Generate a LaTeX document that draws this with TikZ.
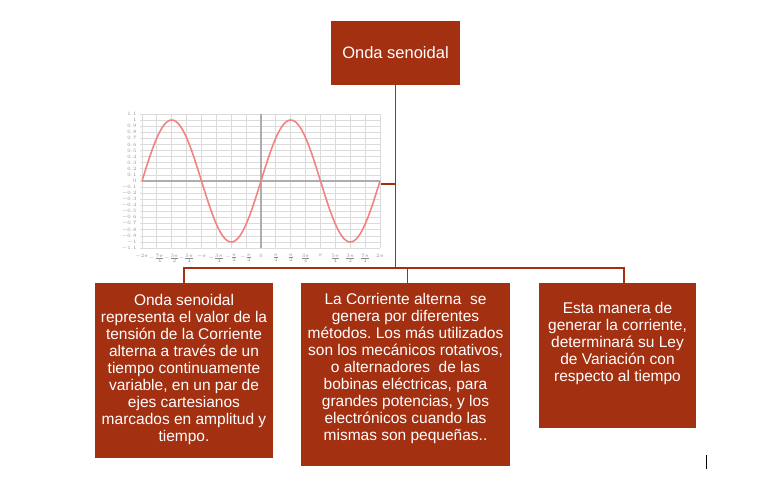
\documentclass[tikz,border=0pt]{standalone}
\usepackage{fontspec}
\setmainfont{Liberation Sans}
\usetikzlibrary{positioning}
\frenchspacing
\definecolor{brick}{RGB}{164,48,18}
\definecolor{sinered}{RGB}{244,130,130}
\newcommand{\boxfont}{\fontsize{15.5}{17}\selectfont}
\newcommand{\tickfont}{\fontsize{3}{3.5}\selectfont}
\tikzset{mapbox/.style={rectangle, fill=brick, draw=none, inner sep=0pt}}
\tikzset{boxtext/.style={text=white, align=center, font=\boxfont, inner sep=0pt}}
\tikzset{link/.style={draw=brick, line width=1.4pt}}
\tikzset{gridln/.style={draw=black!14, line width=0.8pt}}
\tikzset{axisln/.style={draw=black!32, line width=1.5pt}}

\begin{document}
\begin{tikzpicture}[x=1pt, y=-1pt]
\useasboundingbox (0,0) rectangle (766,495);

\node[mapbox, minimum width=129pt, minimum height=64pt] (top) at (395.5,53) {};
\node[boxtext, font=\fontsize{16.5}{18}\selectfont] (toptxt) at (top) {Onda senoidal};

% sine chart
\begin{scope}[shift={(142,181)}]
\foreach \v in {-11,...,11} {
  \draw[gridln] (-2,-6.1*\v) -- (238,-6.1*\v);
  \pgfmathsetmacro{\lab}{\v/10}
  \node[text=black!45, font=\tickfont, anchor=east] (ylab\v) at (-2,-6.1*\v) {\pgfmathprintnumber[fixed,precision=1]{\lab}};
}
\foreach \k in {0,...,16} \draw[gridln] (14.875*\k,-67.1) -- (14.875*\k,67.1);
\draw[axisln] (0,0) -- (238,0);
\draw[axisln] (119,-67.1) -- (119,67.1);
\foreach \k/\t in {0/$-2\pi$,1/$-\frac{7\pi}{4}$,2/$-\frac{3\pi}{2}$,3/$-\frac{5\pi}{4}$,4/$-\pi$,5/$-\frac{3\pi}{4}$,6/$-\frac{\pi}{2}$,7/$-\frac{\pi}{4}$,8/$0$,9/$\frac{\pi}{4}$,10/$\frac{\pi}{2}$,11/$\frac{3\pi}{4}$,12/$\pi$,13/$\frac{5\pi}{4}$,14/$\frac{3\pi}{2}$,15/$\frac{7\pi}{4}$,16/$2\pi$}
  \node[text=black!45, font=\tickfont, anchor=north] (xlab\k) at (14.875*\k,70) {\t};
\draw[sinered, line width=1.6pt] plot[domain=0:238, samples=120, smooth] (\x, {-61*sin(\x/119*360)});
\end{scope}
\coordinate (chartE) at (381,184);
\draw[link] (chartE) -- (chartE -| top.south);

% bottom boxes
\node[mapbox, minimum width=178pt, minimum height=175pt] (lbox) at (184,370.5) {};
\node[boxtext] (ltxt) at (184,369) {Onda senoidal\\representa el valor de la\\tensi\'on de la Corriente\\alterna a trav\'es de un\\tiempo continuamente\\variable, en un par de\\ejes cartesianos\\marcados en amplitud y\\tiempo.};

\node[mapbox, minimum width=209pt, minimum height=183pt] (mbox) at (405.5,374.5) {};
\node[boxtext] (mtxt) at (405.5,368) {La Corriente alterna\ \ se\\genera por diferentes\\m\'etodos. Los m\'as utilizados\\son los mec\'anicos rotativos,\\o alternadores\ \ de las\\bobinas el\'ectricas, para\\grandes potencias, y los\\electr\'onicos cuando las\\mismas son peque\~nas..};

\node[mapbox, minimum width=157pt, minimum height=145pt] (rbox) at (617.5,355.5) {};
\node[boxtext] (rtxt) at (617.5,343) {Esta manera de\\generar la corriente,\\determinar\'a su Ley\\de Variaci\'on con\\respecto al tiempo};

\coordinate (hub) at (395.5,268);
\draw[link] (top.south) -- (hub);
\draw[link] (lbox.north) -- (lbox.north |- hub) -| ([xshift=6.5pt]rbox.north);
\draw[link] ([xshift=2pt]mbox.north) -- ([xshift=2pt]mbox.north |- hub);

\coordinate (caret) at (706,455);
\draw[line width=1pt] (caret) -- ++(0,14);

\end{tikzpicture}
\end{document}
